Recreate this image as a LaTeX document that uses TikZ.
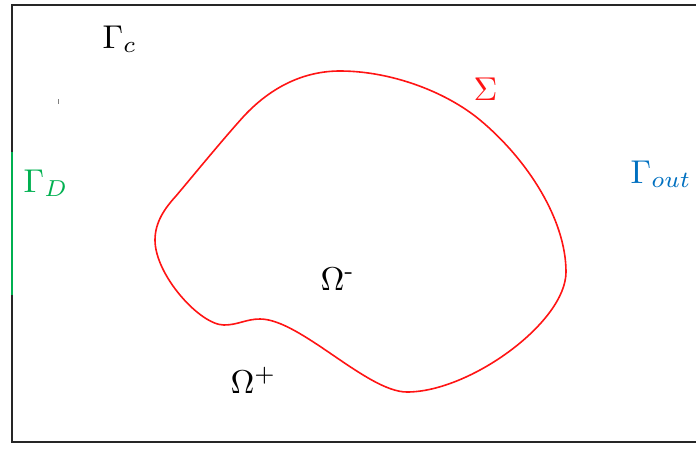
\documentclass[tikz,border=0pt]{standalone}
\usepackage{amsmath}
\definecolor{sgreen}{RGB}{0,176,80}
\definecolor{sblue}{RGB}{0,112,192}
\definecolor{sred}{RGB}{255,20,20}
\begin{document}
\begin{tikzpicture}[x=1pt,y=-1pt,
  lbl/.style={inner sep=0pt, anchor=base west, scale=3.3},
  frame/.style={line width=2.2pt, black!85},
  curve/.style={line width=1.6pt, sred}]
\useasboundingbox (0,0) rectangle (696,448);
% outer frame (right edge lies outside the picture)
\draw[frame] (697,5) -- (12,5) -- (12,442) -- (697,442);
% Dirichlet part
\draw[line width=2.6pt, sgreen] (12,152) -- (12,295);
% small tick
\draw[line width=0.5pt, black!50] (58,99) -- (58,104);
% interface Sigma
\coordinate (A) at (155,240);
\coordinate (C) at (176,196);
\coordinate (D) at (244,116);
\coordinate (E) at (340,71);
\coordinate (F) at (480,120);
\coordinate (G) at (566,272);
\coordinate (H) at (407,392);
\coordinate (J) at (260,319);
\coordinate (K) at (224,325);
\draw[curve]
 (A) .. controls (155,222) and (165,208) .. (C)
     .. controls (192,177) and (224,138) .. (D)
     .. controls (272,86) and (305,71) .. (E)
     .. controls (390,71) and (445,91) .. (F)
     .. controls (528,160) and (566,220) .. (G)
     .. controls (566,322) and (470,392) .. (H)
     .. controls (367,392) and (300,319) .. (J)
     .. controls (246,319) and (238,325) .. (K)
     .. controls (200,325) and (155,275) .. (A) -- cycle;
% labels
\node[lbl] (gc) at (102,48) {$\Gamma_c$};
\node[lbl, text=sgreen] (gd) at (23,192) {$\Gamma_D$};
\node[lbl, text=sblue] (go) at (630,183) {$\Gamma_{out}$};
\node[lbl, text=sred] (sig) at (473,100) {$\Sigma$};
\node[lbl] (om) at (320,290) {$\Omega^{\text{-}}$};
\node[lbl] (op) at (230,393) {$\Omega^{+}$};
\end{tikzpicture}
\end{document}
